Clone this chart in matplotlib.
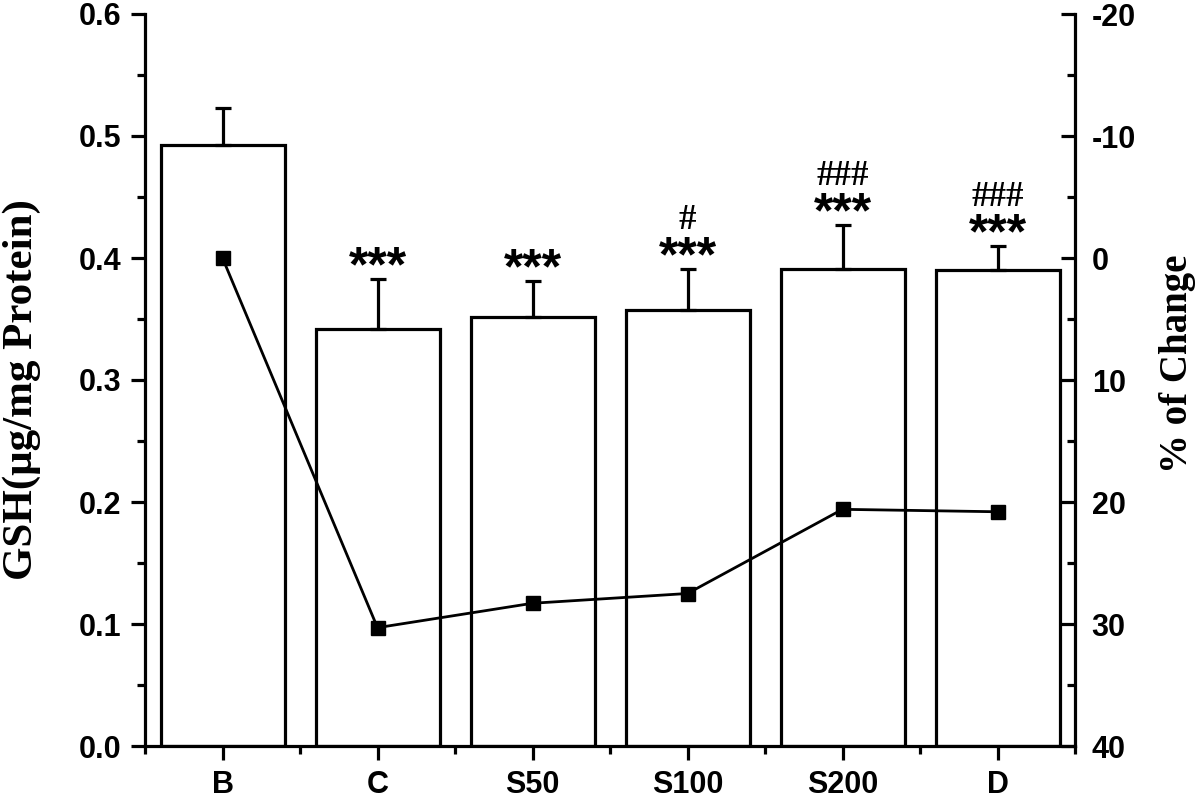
import matplotlib
matplotlib.use("Agg")
import matplotlib.pyplot as plt
from matplotlib.ticker import MultipleLocator, FixedLocator, FuncFormatter

categories = ["B", "C", "S50", "S100", "S200", "D"]
gsh_mean = [0.493, 0.342, 0.352, 0.357, 0.391, 0.390]
gsh_err = [0.030, 0.041, 0.029, 0.034, 0.036, 0.020]
pct_change = [0.0, 30.3, 28.3, 27.5, 20.6, 20.8]
stars = ["", "***", "***", "***", "***", "***"]
hashes = ["", "", "", "#", "###", "###"]

W, H = 1200, 798
fig = plt.figure(figsize=(12, 7.98), dpi=100)
ax = fig.add_axes([145/W, 1-746/H, (1075-145)/W, (746-14)/H])
x = list(range(len(categories)))

ax.bar(x, gsh_mean, width=0.8, color="white", edgecolor="black", linewidth=2.3, zorder=2)
ax.errorbar(x, gsh_mean, yerr=[[0]*len(x), gsh_err], fmt="none", ecolor="black",
            elinewidth=2.3, capsize=6, capthick=2.3, zorder=3)

ax.set_xlim(-0.5, 5.5)
ax.set_ylim(0, 0.6)
ax.spines["top"].set_visible(False)
ax.spines["right"].set_visible(False)
for s in ["left", "bottom"]:
    ax.spines[s].set_linewidth(2.3)

ax.set_xticks(x)
ax.set_xticklabels(categories)
ax.xaxis.set_minor_locator(FixedLocator([i - 0.5 for i in range(len(categories) + 1)]))
ax.yaxis.set_major_locator(MultipleLocator(0.1))
ax.yaxis.set_minor_locator(MultipleLocator(0.05))
ax.yaxis.set_major_formatter(matplotlib.ticker.FormatStrFormatter("%.1f"))
ax.tick_params(axis="both", which="major", direction="out", length=10, width=2.3,
               labelsize=22, pad=7)
ax.tick_params(axis="both", which="minor", direction="out", length=6, width=2.3)
for lab in ax.get_xticklabels() + ax.get_yticklabels():
    lab.set_fontfamily("Liberation Sans")
    lab.set_fontweight("bold")

for i in x:
    top = gsh_mean[i] + gsh_err[i]
    if stars[i]:
        ax.annotate(stars[i], (i, top), xytext=(0, -1.8), textcoords="offset points",
                    ha="center", va="baseline", fontsize=36, fontweight="bold",
                    fontfamily="Liberation Sans")
    if hashes[i]:
        ax.annotate(hashes[i], (i, top), xytext=(0, 28.5), textcoords="offset points",
                    ha="center", va="baseline", fontsize=25, fontweight="bold",
                    fontfamily="Liberation Serif")

ax2 = ax.twinx()
ax2.set_ylim(40, -20)
ax2.plot(x, pct_change, color="black", linewidth=2, marker="s", markersize=10, zorder=4)
for s in ["top", "left", "bottom"]:
    ax2.spines[s].set_visible(False)
ax2.spines["right"].set_linewidth(2.3)
ax2.yaxis.set_major_locator(MultipleLocator(10))
ax2.yaxis.set_minor_locator(MultipleLocator(5))
ax2.yaxis.set_major_formatter(FuncFormatter(lambda v, p: f"{int(round(v))}"))
ax2.tick_params(axis="y", which="major", direction="in", length=10, width=2.3,
                labelsize=22, pad=12)
ax2.tick_params(axis="y", which="minor", direction="in", length=6, width=2.3)
for lab in ax2.get_yticklabels():
    lab.set_fontfamily("Liberation Sans")
    lab.set_fontweight("bold")

fig.text(22/W, 1-390/H, "GSH(μg/mg Protein)", rotation=90, ha="center", va="center",
         fontsize=31, fontweight="bold", fontfamily="Liberation Serif")
fig.text(1178/W, 1-364/H, "% of Change", rotation=90, ha="center", va="center",
         fontsize=28, fontweight="bold", fontfamily="Liberation Serif")

fig.savefig("out.png", dpi=100)
